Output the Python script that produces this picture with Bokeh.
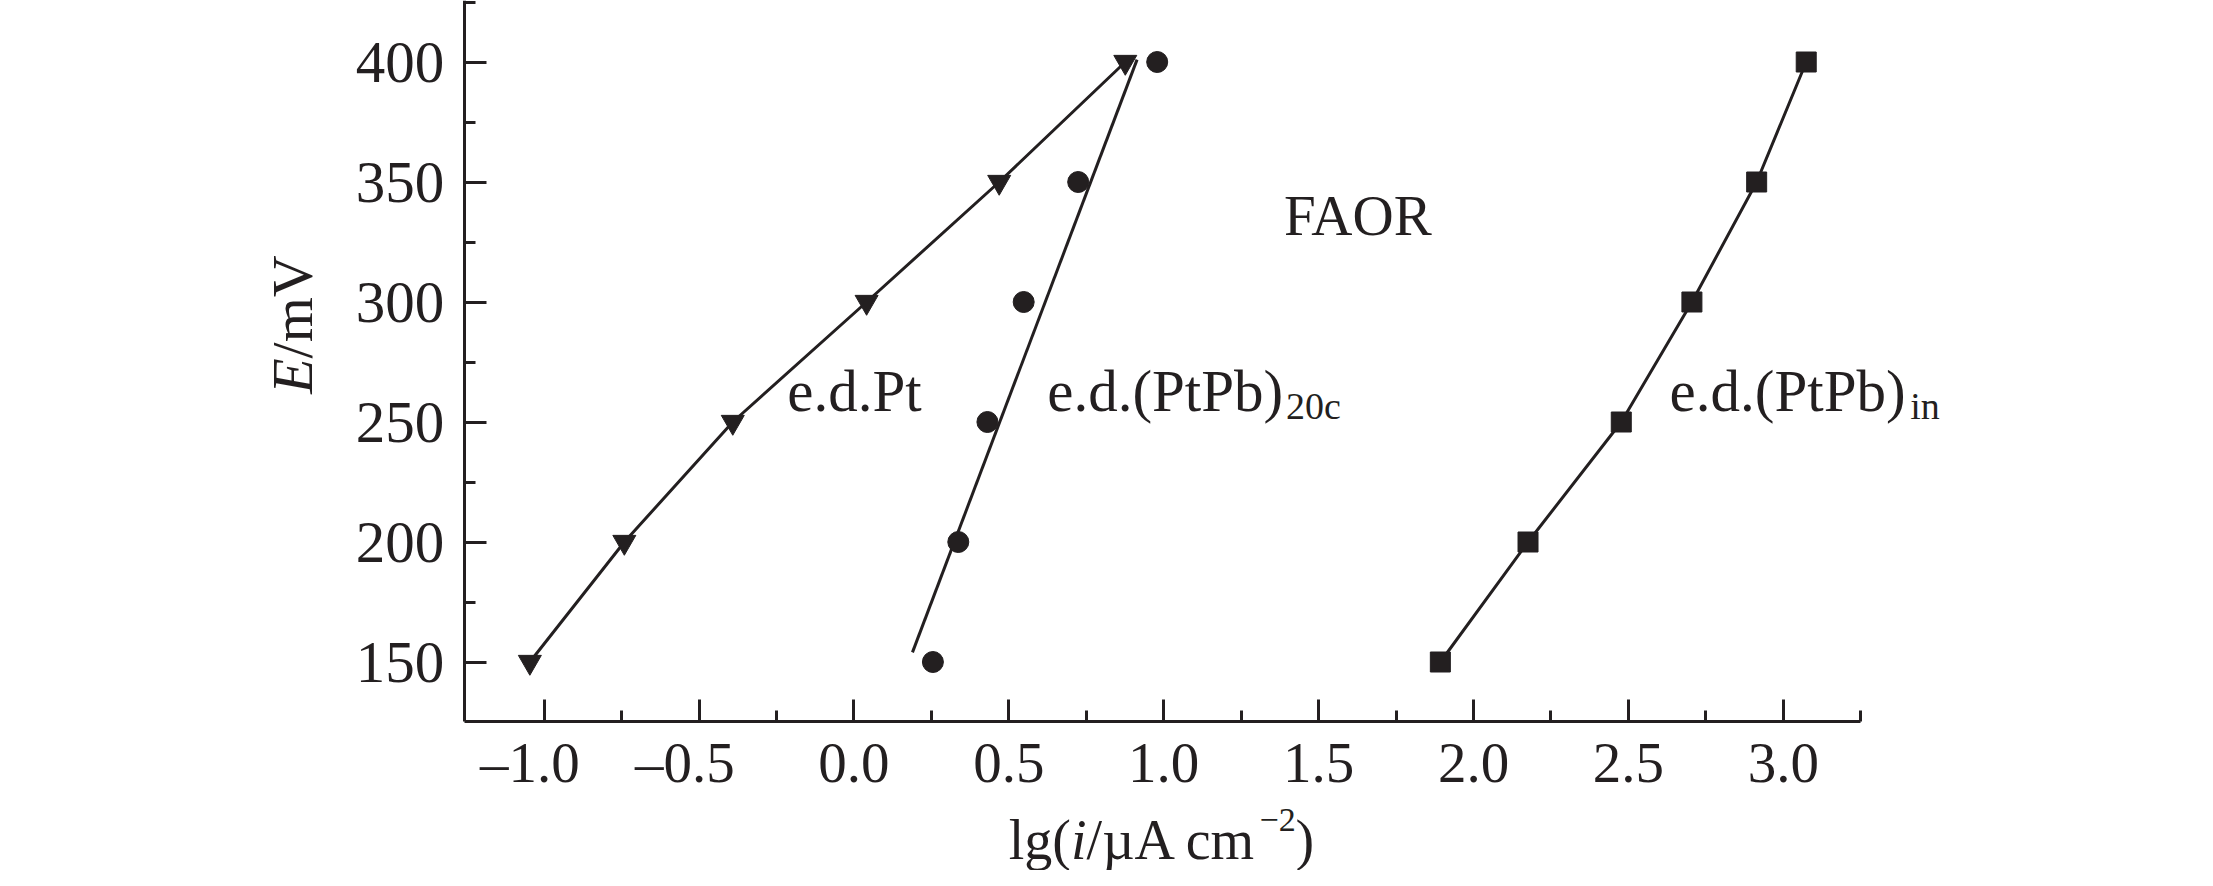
import math
from bokeh.plotting import figure
from bokeh.models import FixedTicker, Label, Range1d
from bokeh.embed import file_html
from bokeh.resources import INLINE

# ---------------- data ----------------
E_mV = [150, 200, 250, 300, 350, 400]
lg_i_Pt = [-1.046, -0.741, -0.391, 0.041, 0.469, 0.876]
lg_i_PtPb20c = [0.255, 0.337, 0.431, 0.548, 0.724, 0.979]
lg_i_PtPbin = [1.893, 2.176, 2.477, 2.705, 2.914, 3.074]
# straight fit line drawn through the (PtPb)20c points
fit20c_lg_i = [0.189, 0.914]
fit20c_E = [154, 401]

x_major = [-1.0, -0.5, 0.0, 0.5, 1.0, 1.5, 2.0, 2.5, 3.0]
x_minor = [-0.75, -0.25, 0.25, 0.75, 1.25, 1.75, 2.25, 2.75, 3.25]
x_tick_labels = ["\u20131.0\u2002", "\u20130.5\u2002", "0.0", "0.5", "1.0", "1.5", "2.0", "2.5", "3.0"]
y_major = [150, 200, 250, 300, 350, 400]
y_minor = [175, 225, 275, 325, 375, 425]
y_tick_labels = ["150", "200", "250", "300", "350", "400"]

# axis extents (data units)
x_axis_span = (-1.258, 3.25)
y_axis_span = (125.3, 425.6)

INK = "#231f20"
SERIF = "Liberation Serif"

# The frame fills the whole canvas so that titles/labels outside the axes are not clipped;
# the axes are pinned at fixed data locations instead of the frame edges.
p = figure(width=2197, height=870, output_backend="svg", toolbar_location=None,
           x_range=Range1d(-2.7547, 4.3370), y_range=Range1d(63.125, 425.625),
           min_border=0)
p.outline_line_color = None
p.grid.visible = False
p.background_fill_color = "white"
p.border_fill_color = "white"

for ax in (p.xaxis[0], p.yaxis[0]):
    ax.axis_line_color = INK
    ax.axis_line_width = 3
    ax.major_tick_line_color = INK
    ax.minor_tick_line_color = INK
    ax.major_tick_line_width = 3
    ax.minor_tick_line_width = 3
    ax.major_tick_in = 22
    ax.major_tick_out = 0
    ax.minor_tick_in = 11
    ax.minor_tick_out = 0
    ax.major_label_text_font = SERIF
    ax.major_label_text_color = INK

xa = p.xaxis[0]
xa.fixed_location = y_axis_span[0]
xa.bounds = x_axis_span
xa.ticker = FixedTicker(ticks=x_major, minor_ticks=x_minor)
xa.major_label_overrides = {v: s for v, s in zip(x_major, x_tick_labels)}
xa.major_label_text_font_size = "57px"
xa.major_label_standoff = 10

ya = p.yaxis[0]
ya.fixed_location = x_axis_span[0]
ya.bounds = y_axis_span
ya.ticker = FixedTicker(ticks=y_major, minor_ticks=y_minor)
ya.major_label_overrides = {v: s for v, s in zip(y_major, y_tick_labels)}
ya.major_label_text_font_size = "59px"
ya.major_label_standoff = 20

# series
p.line(lg_i_Pt, E_mV, line_color=INK, line_width=3)
p.scatter(lg_i_Pt, E_mV, marker="inverted_triangle", size=23, fill_color=INK, line_color=INK)

p.line(fit20c_lg_i, fit20c_E, line_color=INK, line_width=3)
p.scatter(lg_i_PtPb20c, E_mV, marker="circle", size=21, fill_color=INK, line_color=INK)

p.line(lg_i_PtPbin, E_mV, line_color=INK, line_width=3)
p.scatter(lg_i_PtPbin, E_mV, marker="square", size=20, fill_color=INK, line_color=INK)


def dlabel(x, y, text, size, style="normal", angle=0.0):
    p.add_layout(Label(x=x, y=y, text=text, text_font=SERIF, text_font_size=size,
                       text_color=INK, text_align="left", text_baseline="alphabetic",
                       text_font_style=style, angle=angle))


# curve labels
dlabel(-0.215, 263.1, "e.d.Pt", "59px")
dlabel(0.624, 263.1, "e.d.(PtPb)", "59px")
dlabel(1.395, 256.7, "20c", "38px")
dlabel(2.633, 263.1, "e.d.(PtPb)", "59px")
dlabel(3.410, 256.7, "in", "38px")
dlabel(1.388, 336.0, "FAOR", "57px")

# y title: E (italic) / mV, rotated
dlabel(-1.812, 261.75, "E", "58px", "italic", math.pi / 2)
dlabel(-1.812, 276.5, "/mV", "58px", "normal", math.pi / 2)

# x title: lg(i/µA cm^-2)
dlabel(0.5000, 76.04, "lg(", "56px")
dlabel(0.7008, 76.04, "i", "56px", "italic")
dlabel(0.7511, 76.04, "/\u00b5A cm", "56px")
dlabel(1.3093, 83.96, "\u22122", "34px")
dlabel(1.4257, 76.04, ")", "56px")

open("out.html", "w").write(file_html(p, INLINE))
